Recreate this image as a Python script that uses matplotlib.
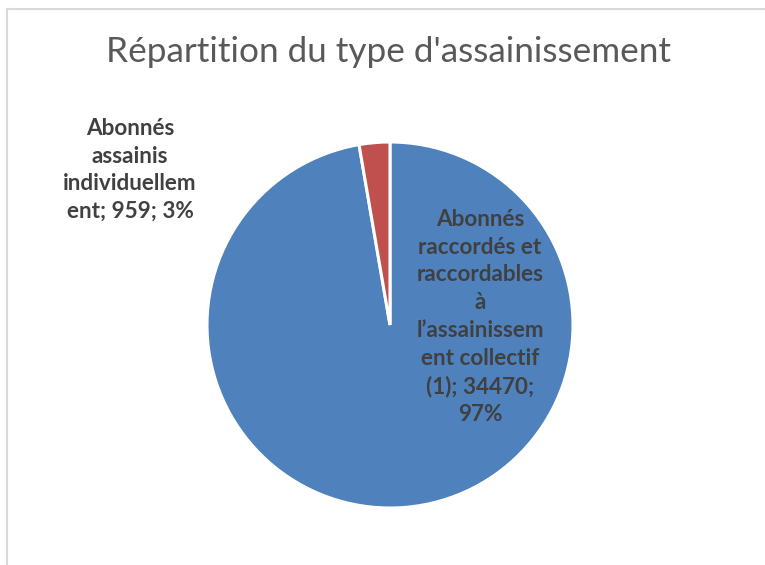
import matplotlib
matplotlib.use("Agg")
import matplotlib.pyplot as plt
from matplotlib.lines import Line2D

plt.rcParams["font.family"] = ["Lato", "DejaVu Sans"]

# data
categories = ["Abonnés raccordés et raccordables à l’assainissement collectif (1)",
              "Abonnés assainis individuellement"]
values = [34470, 959]
percents = [97, 3]
colors = ["#4F81BD", "#C0504D"]
label_texts = [
    "Abonnés\nraccordés et\nraccordables\nà\nl’assainissem\nent collectif\n(1); 34470;\n97%",
    "Abonnés\nassainis\nindividuellem\nent; 959; 3%",
]

W, H = 765, 565
fig = plt.figure(figsize=(W / 100, H / 100), dpi=100)

# chart-area border (cut off on right/bottom like the source)
border = "#D9D9D9"
fig.add_artist(Line2D([7 / W, 7 / W], [0, 1 - 9 / H], color=border, lw=1.5))
fig.add_artist(Line2D([7 / W, 1], [1 - 9 / H, 1 - 9 / H], color=border, lw=1.5))

ax = fig.add_axes([207 / W, 57 / H, 366 / W, 366 / H])
ax.pie(values, colors=colors, startangle=90, counterclock=False,
       wedgeprops=dict(edgecolor="white", linewidth=2.2))
ax.set_xlim(-1, 1)
ax.set_ylim(-1, 1)
ax.set_aspect("equal")
ax.axis("off")

fig.text(389 / W, 1 - 52 / H, "Répartition du type d'assainissement",
         ha="center", va="center", fontsize=25.3, color="#595959")

lab_kw = dict(ha="center", va="center", fontsize=16.2, fontweight="bold",
              color="#404040", linespacing=1.4)
fig.text(480 / W, 1 - 317 / H, label_texts[0], **lab_kw)
fig.text(130 / W, 1 - 170 / H, label_texts[1], **lab_kw)

fig.savefig("out.png", dpi=100)
